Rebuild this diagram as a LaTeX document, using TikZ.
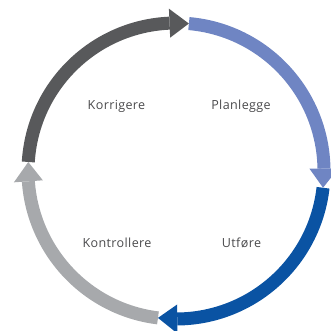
\documentclass[tikz,border=0pt]{standalone}
\usepackage{fontspec}
\setmainfont{Open Sans}[LetterSpace=3]
\definecolor{cdgray}{HTML}{58595B}
\definecolor{clblue}{HTML}{6F85C3}
\definecolor{cdblue}{HTML}{0A53A3}
\definecolor{clgray}{HTML}{A7A9AC}
\definecolor{ctext}{HTML}{4A4A4C}
\begin{document}
\begin{tikzpicture}[
  band/.style={line width=13bp},
  lbl/.style={font=\fontsize{12.6}{14}\selectfont, text=ctext, anchor=base, inner sep=0pt}
]
\useasboundingbox (0,0) rectangle (331bp,-331bp);
\clip (0,0) rectangle (331bp,-331bp);
\def\R{148bp}
\def\Ri{133.5bp}
\def\Ro{162.5bp}
\begin{scope}[shift={(176bp,-171bp)}]
  % arcs
  \draw[band, cdgray] (176.5:\R) arc[start angle=176.5, end angle=92.5, radius=\R];
  \draw[band, clblue] (85:\R) arc[start angle=85, end angle=1, radius=\R];
  \draw[band, cdblue] (-6.5:\R) arc[start angle=-6.5, end angle=-89.5, radius=\R];
  \draw[band, clgray] (263:\R) arc[start angle=263, end angle=184, radius=\R];
  % heads
  \fill[cdgray] (85:\R) -- (92.5:\Ri) -- (92.5:\Ro) -- cycle;
  \fill[clblue] (-6.5:\R) -- (1:\Ri) -- (1:\Ro) -- cycle;
  \fill[cdblue] (-97:\R) -- (-89.5:\Ri) -- (-89.5:\Ro) -- cycle;
  \fill[clgray] (176.5:\R) -- (184:\Ri) -- (184:\Ro) -- cycle;
\end{scope}
\node[lbl] (korr) at (116.5bp,-109.5bp) {Korrigere};
\node[lbl] (plan) at (241bp,-109.5bp) {Planlegge};
\node[lbl] (kont) at (117bp,-247.5bp) {Kontrollere};
\node[lbl] (utf) at (241.5bp,-247.5bp) {Utføre};
\end{tikzpicture}
\end{document}
